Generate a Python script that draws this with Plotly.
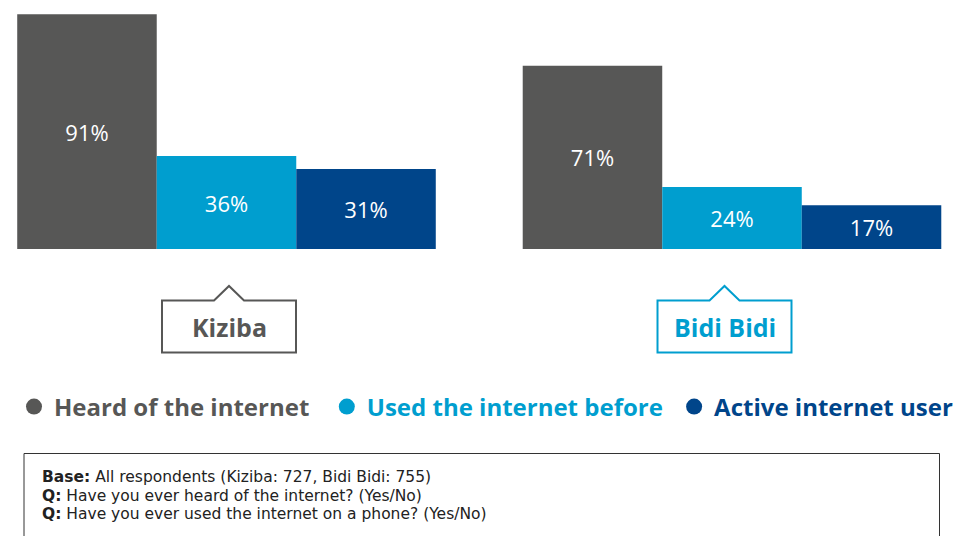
import plotly.graph_objects as go

# Survey results by settlement
sites = ["Kiziba", "Bidi Bidi"]
series_names = ["Heard of the internet", "Used the internet before", "Active internet user"]
values = {
    "Heard of the internet": [91, 71],
    "Used the internet before": [36, 24],
    "Active internet user": [31, 17],
}
colors = ["#575756", "#009ecf", "#00458a"]
site_colors = ["#575756", "#009ecf"]

base_note = [
    "<b>Base:</b> All respondents (Kiziba: 727, Bidi Bidi: 755)",
    "<b>Q:</b> Have you ever heard of the internet? (Yes/No)",
    "<b>Q:</b> Have you ever used the internet on a phone? (Yes/No)",
]

W, H = 958, 536
FONT = "Open Sans"
NOTE_FONT = "DejaVu Sans"


def px(x, y):
    """Convert a pixel position on the canvas to paper coordinates."""
    return x / W, 1 - y / H


fig = go.Figure()

for name, col in zip(series_names, colors):
    fig.add_trace(go.Bar(
        x=sites,
        y=values[name],
        name=name,
        marker=dict(color=col, line=dict(width=0)),
        text=[f"{v}%" for v in values[name]],
        textposition="inside",
        insidetextanchor="middle",
        textangle=0,
        textfont=dict(family=FONT, size=22, color="white"),
        showlegend=False,
        hoverinfo="skip",
    ))

# Legend entries drawn as round markers with coloured labels
pad = ["&nbsp;&nbsp;", "&nbsp;", ""]
for name, col, p in zip(series_names, colors, pad):
    fig.add_trace(go.Scatter(
        x=[None], y=[None], mode="markers",
        marker=dict(symbol="circle", size=16, color=col),
        name=f"<span style='color:{col}'><b>{name}</b></span>{p}",
        showlegend=True,
    ))

# Site callout boxes with a small pointer notch on top
shapes = []
annotations = []
for site, cx, col in zip(sites, [229, 724.5], site_colors):
    hw = 67
    top, bottom = 300.5, 352.5
    notch_hw, peak = 15, 286
    pts = [
        (cx - notch_hw, top), (cx, peak), (cx + notch_hw, top),
        (cx + hw, top), (cx + hw, bottom), (cx - hw, bottom), (cx - hw, top),
    ]
    path = "M " + " L ".join(f"{px(a, b)[0]:.5f},{px(a, b)[1]:.5f}" for a, b in pts) + " Z"
    shapes.append(dict(type="path", xref="paper", yref="paper", path=path,
                       line=dict(color=col, width=2), fillcolor="white"))
    lx, ly = px(cx, 327)
    annotations.append(dict(xref="paper", yref="paper", x=lx, y=ly, text=f"<b>{site}</b>",
                            showarrow=False, xanchor="center", yanchor="middle",
                            font=dict(family=FONT, size=25, color=col)))

# Footnote box
x0, y0 = px(24, 453.5)
x1, _ = px(939.5, 0)
shapes.append(dict(type="rect", xref="paper", yref="paper", x0=x0, x1=x1, y0=-0.05, y1=y0,
                   line=dict(color="#333333", width=1), fillcolor="rgba(0,0,0,0)"))
for i, line in enumerate(base_note):
    nx, ny = px(40, 477 + 18.5 * i)
    annotations.append(dict(xref="paper", yref="paper", x=nx, y=ny, text=line,
                            showarrow=False, xanchor="left", yanchor="middle", align="left",
                            font=dict(family=NOTE_FONT, size=15.5, color="#222222")))

zero_px = 249
scale = 2.58  # pixels per percentage point
y_top = zero_px / scale
y_bottom = -(H - zero_px) / scale

cat_w = 505.5
x_center0 = 226.5
x_lo = -x_center0 / cat_w
x_hi = (W - x_center0) / cat_w

lgx, lgy = px(14, 407)
fig.update_layout(
    width=W, height=H,
    margin=dict(l=0, r=0, t=0, b=0),
    paper_bgcolor="white", plot_bgcolor="white",
    barmode="group", bargap=0.172, bargroupgap=0,
    xaxis=dict(range=[x_lo, x_hi], visible=False, fixedrange=True),
    yaxis=dict(range=[y_bottom, y_top], visible=False, fixedrange=True),
    showlegend=True,
    legend=dict(orientation="h", x=lgx, y=lgy, xanchor="left", yanchor="middle",
                font=dict(family=FONT, size=24), itemsizing="trace",
                bgcolor="rgba(0,0,0,0)", tracegroupgap=0),
    shapes=shapes,
    annotations=annotations,
)

fig.write_html("out.html")
